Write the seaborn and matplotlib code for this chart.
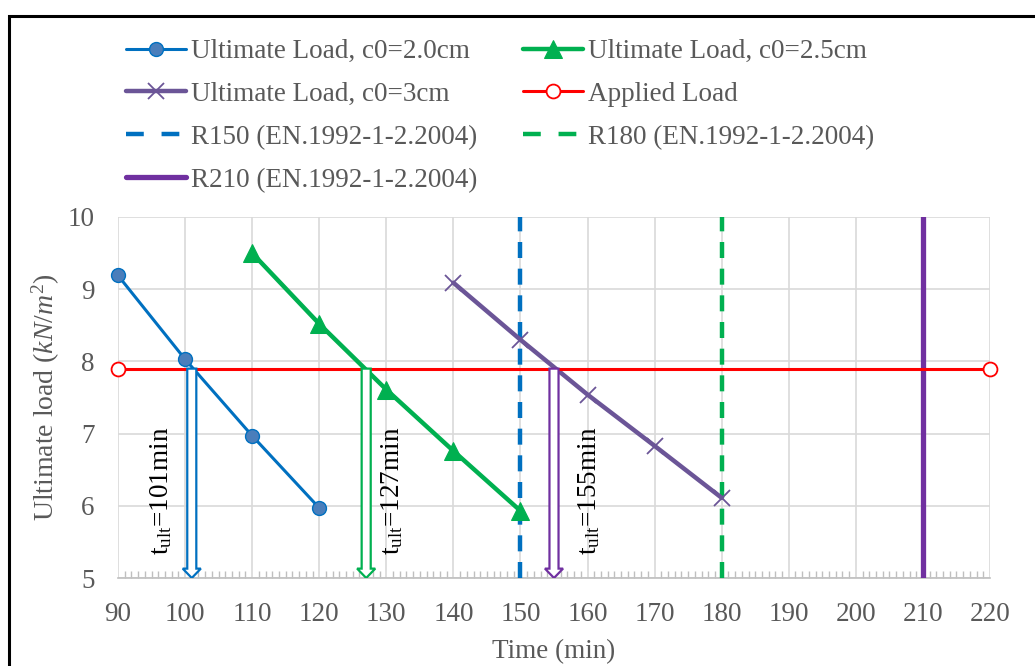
import matplotlib
matplotlib.use("Agg")
import matplotlib.pyplot as plt
import matplotlib.patches as mpatches
from matplotlib.lines import Line2D
from matplotlib.ticker import MultipleLocator
import seaborn as sns
import pandas as pd

# ---- data ----
t_c20 = [90, 100, 110, 120]
load_c20 = [9.19, 8.03, 6.97, 5.97]
t_c25 = [110, 120, 130, 140, 150]
load_c25 = [9.50, 8.52, 7.61, 6.76, 5.93]
t_c30 = [140, 150, 160, 170, 180]
load_c30 = [9.09, 8.30, 7.54, 6.83, 6.11]
applied_t = [90, 220]
applied_load = [7.9, 7.9]
r_lines = [150, 180, 210]
r_labels = ["R150 (EN.1992-1-2.2004)", "R180 (EN.1992-1-2.2004)", "R210 (EN.1992-1-2.2004)"]
t_ult = [101, 127, 155]
t_ult_labels = ["101min", "127min", "155min"]
xticks = list(range(90, 221, 10))
yticks = [5, 6, 7, 8, 9, 10]

sns.set_theme(style="white")
plt.rcParams["font.family"] = ["Liberation Serif", "DejaVu Serif"]
plt.rcParams["mathtext.fontset"] = "custom"
plt.rcParams["mathtext.rm"] = "Liberation Serif"
plt.rcParams["mathtext.it"] = "Liberation Serif:italic"
plt.rcParams["mathtext.default"] = "regular"

GRAY = "#595959"
BLUE = "#0070C0"
GREEN = "#00B050"
PURPLE_S = "#6B5597"
PURPLE = "#7030A0"
RED = "#FF0000"

fig = plt.figure(figsize=(10.35, 6.66), dpi=100)
ax = fig.add_axes([118/1035, 1-578/666, (990-118)/1035, (578-217)/666])

df20 = pd.DataFrame({"t": t_c20, "load": load_c20})
df25 = pd.DataFrame({"t": t_c25, "load": load_c25})
df30 = pd.DataFrame({"t": t_c30, "load": load_c30})
dfa = pd.DataFrame({"t": applied_t, "load": applied_load})

sns.lineplot(data=df20, x="t", y="load", ax=ax, color=BLUE, lw=2.2, marker="o",
             markersize=10, markerfacecolor="#4A7EBB", markeredgecolor=BLUE, markeredgewidth=1,
             label="Ultimate Load, c0=2.0cm", clip_on=False, zorder=5)
sns.lineplot(data=df25, x="t", y="load", ax=ax, color=GREEN, lw=3.2, marker="^",
             markersize=13, markerfacecolor=GREEN, markeredgecolor=GREEN,
             label="Ultimate Load, c0=2.5cm", clip_on=False, zorder=5)
sns.lineplot(data=df30, x="t", y="load", ax=ax, color=PURPLE_S, lw=3.2, marker="x",
             markersize=11, markeredgewidth=1.3, markeredgecolor=PURPLE_S,
             label="Ultimate Load, c0=3cm", clip_on=False, zorder=5)
sns.lineplot(data=dfa, x="t", y="load", ax=ax, color=RED, lw=2.2, marker="o",
             markersize=10, markerfacecolor="white", markeredgecolor=RED, markeredgewidth=1.3,
             label="Applied Load", clip_on=False, zorder=6)

ax.axvline(r_lines[0], color=BLUE, lw=3.2, ls=(0, (3.6, 2.4)), zorder=4)
ax.axvline(r_lines[1], color=GREEN, lw=3.2, ls=(0, (3.6, 2.4)), zorder=4)
ax.axvline(r_lines[2], color=PURPLE, lw=3.8, zorder=4)

# hollow arrows + labels
arrow_colors = [BLUE, GREEN, PURPLE]
text_dx = [-4.6, 3.9, 5.3]
for tu, lab, c, dx in zip(t_ult, t_ult_labels, arrow_colors, text_dx):
    ax.arrow(tu, applied_load[0], 0, 5 - applied_load[0], width=1.35, head_width=2.7,
             head_length=0.13, length_includes_head=True, fc="white", ec=c, lw=1.6, zorder=7)
    ax.text(tu + dx, 6.2, r"t$_{ult}$=" + lab, rotation=90, ha="center", va="center",
            fontsize=19.5, color="black", zorder=8)

ax.set_xlim(90, 220)
ax.set_ylim(5, 10)
ax.set_xticks(xticks)
ax.set_yticks(yticks)
ax.xaxis.set_minor_locator(MultipleLocator(1))
ax.grid(True, which="major", color="#D9D9D9", lw=1.2, zorder=0)
ax.set_axisbelow(True)
for s in ["top", "right", "left"]:
    ax.spines[s].set_visible(False)
ax.spines["bottom"].set_color("#BFBFBF")
ax.spines["bottom"].set_linewidth(1.2)
ax.tick_params(axis="x", which="major", length=0, pad=17, labelsize=19.5, labelcolor=GRAY)
ax.tick_params(axis="x", which="minor", direction="in", length=5, width=1, color="#BFBFBF", bottom=True)
ax.tick_params(axis="y", which="major", length=0, pad=17, labelsize=19.5, labelcolor=GRAY)
ax.set_xlabel("Time (min)", fontsize=19.5, color=GRAY, labelpad=9)
ax.set_ylabel(r"Ultimate load ($\mathit{kN/m^2}$)", fontsize=20, color=GRAY, labelpad=4)

# legend
handles, labels = ax.get_legend_handles_labels()
lookup = dict(zip(labels, handles))
lookup[r_labels[0]] = Line2D([], [], color=BLUE, lw=3.2, ls=(0, (4.0, 4.0)))
lookup[r_labels[1]] = Line2D([], [], color=GREEN, lw=3.2, ls=(0, (4.0, 4.0)))
lookup[r_labels[2]] = Line2D([], [], color=PURPLE, lw=3.8)
order = ["Ultimate Load, c0=2.0cm", "Ultimate Load, c0=3cm", r_labels[0], r_labels[2],
         "Ultimate Load, c0=2.5cm", "Applied Load", r_labels[1]]
if ax.legend_:
    ax.legend_.remove()
fig.legend([lookup[k] for k in order], order, loc="upper left",
           bbox_to_anchor=(126/1035, 1-39/666), ncol=2, frameon=False, fontsize=19.5,
           handlelength=2.2, handletextpad=0.2, columnspacing=1.7, labelspacing=0.66,
           borderpad=0, borderaxespad=0, labelcolor=GRAY)

# figure border
fig.patches.append(mpatches.Rectangle((8.5/1035, -0.2), 1.2, 0.2 + 1 - 15.5/666,
                                      transform=fig.transFigure, fill=False,
                                      ec="black", lw=2.2, clip_on=False))

fig.savefig("out.png", dpi=100)
